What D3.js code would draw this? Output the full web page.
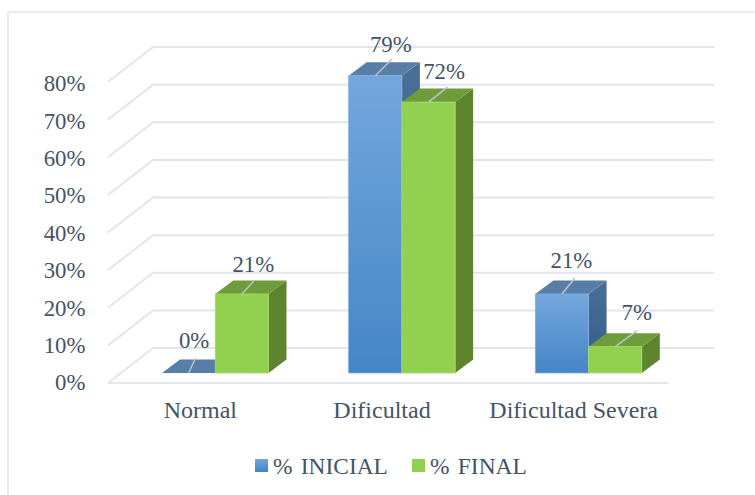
<!DOCTYPE html>
<html><head><meta charset="utf-8">
<script src="https://cdn.jsdelivr.net/npm/d3@7/dist/d3.min.js"></script>
<style>html,body{margin:0;padding:0;background:#fff}svg{display:block}
text{font-family:"Liberation Serif","Times New Roman",serif;fill:#44546a}</style>
</head><body><svg id="c" width="755" height="495"></svg>
<script>
const categories = ["Normal","Dificultad","Dificultad Severa"];
const seriesNames = ["% INICIAL","% FINAL"];
const inicial = [0,79,21];
const final_ = [21,72,7];
const yTicks = [0,10,20,30,40,50,60,70,80];

const svg = d3.select("#c");
const defs = svg.append("defs");
function grad(id,a,b){const g=defs.append("linearGradient").attr("id",id).attr("x1",0).attr("y1",0).attr("x2",0).attr("y2",1);
 g.append("stop").attr("offset",0).attr("stop-color",a);g.append("stop").attr("offset",1).attr("stop-color",b);}
grad("blueFront","#74a7dd","#4585c7");
grad("blueSide","#4a6f95","#325d8c");
grad("legBlue","#72a6dc","#4483c6");

// frame: left edge and top edge only
svg.append("path").attr("d","M8,495V12H755").attr("fill","none").attr("stroke","#e3e6ec").attr("stroke-width",1.5);

const dx = 45, dy = -35;           // wall depth
const barDx = 18, barDy = -13.5;   // bar depth
const y = d3.scaleLinear().domain([0,80]).range([383,82]);   // front edge of the floor
const yLabel = d3.scaleLinear().domain([0,80]).range([382.5,83.5]); // tick label placement
const x = d3.scaleBand().domain(categories).range([108,668]);
const inner = d3.scaleBand().domain([0,1]).range([0,106.5]);
const barY = v => y(v) - 10;
const barShift = 13.9;
const barX = c => x(c) + x.bandwidth()/2 - inner.bandwidth() + barShift;

// gridlines
const grid = svg.append("g").attr("stroke","#e2e5ec").attr("stroke-width",2).attr("fill","none");
yTicks.forEach(t=>{
  const y0=y(t), a=x.range()[0], b=x.range()[1];
  let d=`M${a},${y0}L${a+dx},${y0+dy}L${b+dx+1},${y0+dy}`;
  if(t===0) d+=`M${a},${y0}L${b},${y0}`;
  grid.append("path").attr("d",d);
});

// axis labels
const ag = svg.append("g").attr("transform","translate(85.5,0)")
  .call(d3.axisLeft(yLabel).tickValues(yTicks).tickSize(0).tickPadding(0).tickFormat(d=>d+"%"));
ag.select(".domain").remove();
ag.selectAll("text").attr("font-size",22.8);

const xg = svg.append("g").attr("transform","translate(-1,396)")
  .call(d3.axisBottom(x).tickSize(0).tickPadding(0));
xg.select(".domain").remove();
const xNudge = [0,-5,0];
xg.selectAll("text").attr("font-size",24).attr("dy",0).attr("y",22).attr("dx",(d,i)=>xNudge[i]);

// bars
function bar(cat,i,v,front,top,side,edge){
  const x0 = barX(cat) + inner(i), w = inner.bandwidth();
  const y0 = barY(v), yb = barY(0);
  const g = svg.append("g");
  g.append("path").attr("d",`M${x0+w},${y0}L${x0+w+barDx},${y0+barDy}V${yb+barDy}L${x0+w},${yb}Z`).attr("fill",side);
  g.append("path").attr("d",`M${x0},${y0}L${x0+barDx},${y0+barDy}H${x0+w+barDx}L${x0+w},${y0}Z`).attr("fill",top);
  if(v>0) g.append("rect").attr("x",x0).attr("y",y0).attr("width",w).attr("height",yb-y0).attr("fill",front).attr("stroke",edge).attr("stroke-width",0.8);
}
categories.forEach((c,k)=>{
  bar(c,0,inicial[k],"url(#blueFront)","#587ea8","url(#blueSide)","#7fb0e2");
  bar(c,1,final_[k],"#92d14f","#6e9c3a","#5e842e","#a6da70");
});

// data labels with leader lines; offsets by [category][series]
const leader = [[[7,15],[12,13]],[[17,17],[19,15]],[[13,16],[22,16]]];
const textDx = [[5.5,11.5],[15.5,15.5],[9.5,21.5]];
const textDy = [[25,22],[24,23],[26,27]];
categories.forEach((c,k)=>{
  [inicial[k],final_[k]].forEach((v,i)=>{
    const cx=barX(c)+inner(i)+inner.bandwidth()/2, y0=barY(v);
    svg.append("line").attr("x1",cx).attr("y1",y0).attr("x2",cx+leader[k][i][0]).attr("y2",y0-leader[k][i][1])
      .attr("stroke","#bfc3c9").attr("stroke-width",1.5);
    svg.append("text").attr("x",cx+textDx[k][i]).attr("y",y0-textDy[k][i]).attr("text-anchor","middle")
      .attr("font-size",22.8).text(v+"%");
  });
});

// legend
const legendX=[255,412];
const legendFill=["url(#legBlue)","#92d14f"];
seriesNames.forEach((n,i)=>{
  svg.append("rect").attr("x",legendX[i]).attr("y",459).attr("width",13).attr("height",13).attr("fill",legendFill[i]);
  svg.append("text").attr("x",legendX[i]+18).attr("y",474).attr("font-size",23.4).style("word-spacing","2.5px").text(n);
});
</script></body></html>
